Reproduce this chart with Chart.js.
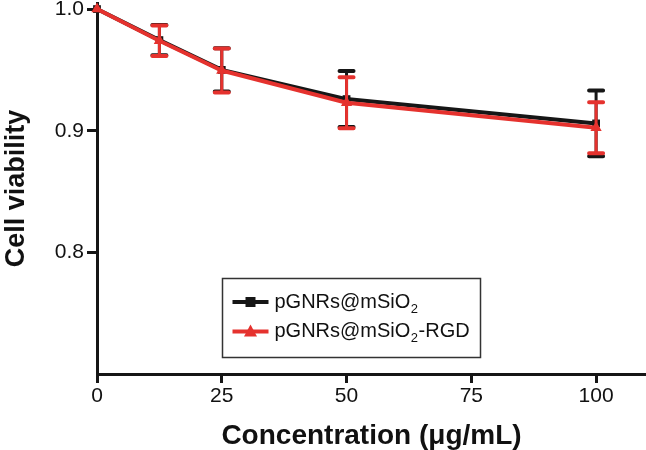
<!DOCTYPE html>
<html>
<head>
<meta charset="utf-8">
<script src="https://cdn.jsdelivr.net/npm/chart.js@4.4.1/dist/chart.umd.min.js"></script>
<style>
html,body{margin:0;padding:0;background:#fff;}
#wrap{width:646px;height:450px;position:relative;}
</style>
</head>
<body>
<div id="wrap"><canvas id="c" width="646" height="450"></canvas></div>
<script>
// ---- data ----
const concentrations = [0, 12.5, 25, 50, 100];
const seriesNames = ["pGNRs@mSiO₂", "pGNRs@mSiO₂-RGD"];
const viabilityPlain = [1.0, 0.9745, 0.950, 0.926, 0.906];
const errorPlain     = [0, 0.0125, 0.0178, 0.023, 0.027];
const viabilityRGD   = [1.0, 0.974, 0.9495, 0.923, 0.9025];
const errorRGD       = [0, 0.0125, 0.018, 0.021, 0.021];
const xTickValues = [0, 25, 50, 75, 100];
const yTickValues = [0.8, 0.9, 1.0];

const BLACK = '#161616';
const RED = '#e5322e';

function pts(xs, ys){ return xs.map((x,i)=>({x:x, y:ys[i]})); }

const errorBars = {
  id: 'errorBars',
  afterDatasetDraw(chart, args) {
    const ds = chart.data.datasets[args.index];
    if (!ds.errors) return;
    const ctx = chart.ctx;
    const xs = chart.scales.x, ys = chart.scales.y;
    ctx.save();
    ctx.strokeStyle = ds.borderColor;
    ds.data.forEach((p, i) => {
      const e = ds.errors[i];
      if (!e) return;
      const px = xs.getPixelForValue(p.x);
      const top = ys.getPixelForValue(p.y + e);
      const bot = ys.getPixelForValue(p.y - e);
      ctx.lineWidth = 3;
      ctx.beginPath(); ctx.moveTo(px, top); ctx.lineTo(px, bot); ctx.stroke();
      ctx.lineWidth = 4;
      ctx.lineCap = 'round';
      ctx.beginPath();
      ctx.moveTo(px - 7, top); ctx.lineTo(px + 7, top);
      ctx.moveTo(px - 7, bot); ctx.lineTo(px + 7, bot);
      ctx.stroke();
      ctx.lineCap = 'butt';
    });
    ctx.restore();
  }
};

const customLegend = {
  id: 'customLegend',
  afterDraw(chart, args, opts) {
    const ctx = chart.ctx;
    ctx.save();
    ctx.strokeStyle = '#333';
    ctx.lineWidth = 1.5;
    ctx.strokeRect(opts.left, opts.top, opts.width, opts.height);
    const order = [1, 0];
    order.forEach((dsIndex, row) => {
      const ds = chart.data.datasets[dsIndex];
      const y = opts.top + opts.firstRow + row * opts.rowGap;
      const x0 = opts.left + 10, x1 = opts.left + 46;
      ctx.strokeStyle = ds.borderColor;
      ctx.fillStyle = ds.borderColor;
      ctx.lineWidth = 4;
      ctx.beginPath(); ctx.moveTo(x0, y); ctx.lineTo(x1, y); ctx.stroke();
      const cx = (x0 + x1) / 2;
      ctx.beginPath();
      if (ds.pointStyle === 'rect') {
        ctx.rect(cx - 5, y - 5, 10, 10);
      } else {
        ctx.moveTo(cx, y - 7); ctx.lineTo(cx + 6.5, y + 5); ctx.lineTo(cx - 6.5, y + 5); ctx.closePath();
      }
      ctx.fill();
      ctx.fillStyle = '#111';
      ctx.textBaseline = 'middle';
      ctx.textAlign = 'left';
      const parts = ds.label.split('₂');
      let tx = opts.left + 52;
      ctx.font = '20px "Liberation Sans", Arial, sans-serif';
      ctx.fillText(parts[0], tx, y);
      tx += ctx.measureText(parts[0]).width;
      if (parts.length > 1) {
        ctx.font = '13px "Liberation Sans", Arial, sans-serif';
        ctx.fillText('2', tx + 0.5, y + 7);
        tx += ctx.measureText('2').width + 1;
        ctx.font = '20px "Liberation Sans", Arial, sans-serif';
        ctx.fillText(parts[1], tx, y);
      }
    });
    ctx.restore();
  }
};

const axisFont = { family: '"Liberation Sans", Arial, sans-serif', size: 21 };
const xTitleFont = { family: '"Liberation Sans", Arial, sans-serif', size: 28, weight: 'bold' };
const yTitleFont = { family: '"Liberation Sans", Arial, sans-serif', size: 27, weight: 'bold' };

new Chart(document.getElementById('c'), {
  type: 'line',
  data: {
    datasets: [
      {
        label: seriesNames[1],
        data: pts(concentrations, viabilityRGD),
        errors: errorRGD,
        borderColor: RED, backgroundColor: RED,
        borderWidth: 4, pointStyle: 'triangle', pointRadius: 6.5,
        pointBorderWidth: 0, tension: 0, order: 0, clip: false
      },
      {
        label: seriesNames[0],
        data: pts(concentrations, viabilityPlain),
        errors: errorPlain,
        borderColor: BLACK, backgroundColor: BLACK,
        borderWidth: 4, pointStyle: 'rect', pointRadius: 5.5,
        pointBorderWidth: 0, tension: 0, order: 1, clip: false
      }
    ]
  },
  options: {
    responsive: false,
    animation: false,
    layout: { autoPadding: false, padding: { top: 3, right: 0, left: 0, bottom: 0 } },
    plugins: {
      legend: { display: false },
      tooltip: { enabled: false },
      customLegend: { left: 222.5, top: 278.5, width: 258, height: 79, firstRow: 23.5, rowGap: 29.5 }
    },
    scales: {
      x: {
        type: 'linear', min: 0, max: 110,
        afterBuildTicks: (s) => { s.ticks = xTickValues.map(v => ({ value: v })); },
        afterFit: (s) => { s.height = 76; s.paddingLeft = 0; s.paddingRight = 0; },
        ticks: { font: axisFont, color: '#111', padding: 1, maxRotation: 0,
                 callback: (v) => String(v) },
        grid: { display: true, drawOnChartArea: false, drawTicks: true, tickLength: 9, lineWidth: 3, color: BLACK },
        border: { display: true, width: 3, color: BLACK },
        title: { display: true, text: 'Concentration (μg/mL)', font: xTitleFont, color: '#111', padding: { top: 0, bottom: -3 } }
      },
      y: {
        min: 0.7, max: 1.005,
        afterBuildTicks: (s) => { s.ticks = yTickValues.map(v => ({ value: v })); },
        afterFit: (s) => { s.width = 97; s.paddingTop = 0; s.paddingBottom = 0; },
        ticks: { font: axisFont, color: '#111', padding: 3,
                 callback: (v) => v.toFixed(1) },
        grid: { display: true, drawOnChartArea: false, drawTicks: true, tickLength: 10, lineWidth: 3, color: BLACK },
        border: { display: true, width: 3, color: BLACK },
        title: { display: true, text: 'Cell viability', font: yTitleFont, color: '#111', padding: { top: 0, bottom: 0 } }
      }
    }
  },
  plugins: [errorBars, customLegend]
});
</script>
</body>
</html>
